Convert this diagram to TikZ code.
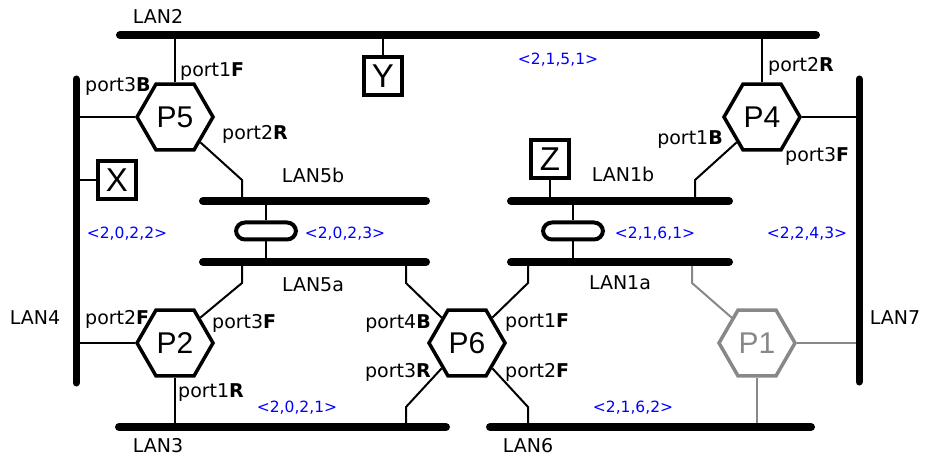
\documentclass[tikz,border=0pt]{standalone}
\usepackage{fontspec}
\setmainfont{DejaVu Sans}
\newfontfamily\hexfont{Liberation Sans}
\usetikzlibrary{shapes.geometric}
\definecolor{pgray}{RGB}{136,136,136}
\begin{document}
\begin{tikzpicture}[x=1pt,y=-1pt,
 lan/.style={line width=8pt, line cap=round},
 vlan/.style={line width=7pt, line cap=round},
 wire/.style={line width=2pt},
 hex/.style={regular polygon, regular polygon sides=6, draw, line width=3.5pt, minimum size=76pt, inner sep=0pt, font=\hexfont\fontsize{30}{30}\selectfont},
 host/.style={draw, line width=4pt, minimum size=38pt, inner sep=0pt, font=\hexfont\fontsize{33}{33}\selectfont},
 lbl/.style={font=\fontsize{19}{19}\selectfont, inner sep=0pt, text height=14pt, text depth=0pt},
 vec/.style={font=\fontsize{15.5}{15.5}\selectfont, text=blue, inner sep=0pt, text height=11.5pt, text depth=0pt},
 coupler/.style={draw, line width=4pt, rounded corners=9pt, minimum width=60pt, minimum height=17pt, inner sep=0pt, fill=white}
]
\useasboundingbox (0,0) rectangle (929,462);

% LAN end coordinates
\coordinate (lan2W) at (120,35);  \coordinate (lan2E) at (816,35);
\coordinate (lan4N) at (76,79);   \coordinate (lan4S) at (76,383);
\coordinate (lan7N) at (859,79);  \coordinate (lan7S) at (859,382);
\coordinate (lan5bW) at (203,201); \coordinate (lan5bE) at (426,201);
\coordinate (lan5aW) at (203,262); \coordinate (lan5aE) at (426,262);
\coordinate (lan1bW) at (511,201); \coordinate (lan1bE) at (729,201);
\coordinate (lan1aW) at (511,262); \coordinate (lan1aE) at (729,262);
\coordinate (lan3W) at (119,427); \coordinate (lan3E) at (446,427);
\coordinate (lan6W) at (490,427); \coordinate (lan6E) at (811,427);

% nodes
\node[hex] (P5) at (175,117) {P5};
\node[hex] (P4) at (762,117) {P4};
\node[hex] (P2) at (175,343) {P2};
\node[hex] (P6) at (467,343) {P6};
\node[hex, draw=pgray, text=pgray] (P1) at (757,343) {P1};
\node[host] (X) at (117,180) {X};
\node[host] (Y) at (383,76) {Y};
\node[host] (Z) at (550,159) {Z};
\node[coupler] (C5) at (266,231) {};
\node[coupler] (C1) at (573,231) {};

% bend points
\coordinate (b5) at (242,180);
\coordinate (b2) at (242,283);
\coordinate (b64) at (406,283);
\coordinate (b63) at (406,407);
\coordinate (b61) at (528,283);
\coordinate (b62) at (528,407);
\coordinate (b4) at (695,180);
\coordinate (b1) at (692,283);

% wires
\draw[wire] (P5.north) -- (P5.north |- lan2W);
\draw[wire] (P4.north) -- (P4.north |- lan2W);
\draw[wire] (Y.north) -- (Y.north |- lan2W);
\draw[wire] (P5.west) -- (P5.west -| lan4N);
\draw[wire] (X.west) -- (X.west -| lan4N);
\draw[wire] (P2.west) -- (P2.west -| lan4N);
\draw[wire] (P4.east) -- (P4.east -| lan7N);
\draw[wire] (P5.-45) -- (b5) -- (b5 |- lan5bW);
\draw[wire] (P2.45) -- (b2) -- (b2 |- lan5aW);
\draw[wire] (P2.south) -- (P2.south |- lan3W);
\draw[wire] (P6.135) -- (b64) -- (b64 |- lan5aW);
\draw[wire] (P6.-135) -- (b63) -- (b63 |- lan3W);
\draw[wire] (P6.45) -- (b61) -- (b61 |- lan1aW);
\draw[wire] (P6.-45) -- (b62) -- (b62 |- lan6W);
\draw[wire] (P4.-135) -- (b4) -- (b4 |- lan1bW);
\draw[wire] (Z.south) -- (Z.south |- lan1bW);
\draw[wire] (C5.north) -- (C5.north |- lan5bW);
\draw[wire] (C5.south) -- (C5.south |- lan5aW);
\draw[wire] (C1.north) -- (C1.north |- lan1bW);
\draw[wire] (C1.south) -- (C1.south |- lan1aW);
\draw[wire, pgray] (P1.135) -- (b1) -- (b1 |- lan1aW);
\draw[wire, pgray] (P1.south) -- (P1.south |- lan6W);
\draw[wire, pgray] (P1.east) -- (P1.east -| lan7N);

% LAN bars
\draw[lan] (lan2W) -- (lan2E);
\draw[vlan] (lan4N) -- (lan4S);
\draw[vlan] (lan7N) -- (lan7S);
\draw[lan] (lan5bW) -- (lan5bE);
\draw[lan] (lan5aW) -- (lan5aE);
\draw[lan] (lan1bW) -- (lan1bE);
\draw[lan] (lan1aW) -- (lan1aE);
\draw[lan] (lan3W) -- (lan3E);
\draw[lan] (lan6W) -- (lan6E);

% LAN labels
\node[lbl] (tLAN2) at (158,17) {LAN2};
\node[lbl] (tLAN4) at (35,317) {LAN4};
\node[lbl] (tLAN7) at (895,317) {LAN7};
\node[lbl] (tLAN5b) at (313,176) {LAN5b};
\node[lbl] (tLAN5a) at (313,285) {LAN5a};
\node[lbl] (tLAN1b) at (623,175) {LAN1b};
\node[lbl] (tLAN1a) at (620,283) {LAN1a};
\node[lbl] (tLAN3) at (158,445) {LAN3};
\node[lbl] (tLAN6) at (528,445) {LAN6};

% port labels
\node[lbl, anchor=west] (p51) at (180,70) {port1\textbf{F}};
\node[lbl, anchor=west] (p53) at (85,85) {port3\textbf{B}};
\node[lbl, anchor=west] (p52) at (222,133) {port2\textbf{R}};
\node[lbl, anchor=west] (p42) at (768,65) {port2\textbf{R}};
\node[lbl, anchor=east] (p41) at (723,138) {port1\textbf{B}};
\node[lbl, anchor=west] (p43) at (785,155) {port3\textbf{F}};
\node[lbl, anchor=west] (p22) at (85,317) {port2\textbf{F}};
\node[lbl, anchor=west] (p23) at (212,322) {port3\textbf{F}};
\node[lbl, anchor=west] (p21) at (178,390) {port1\textbf{R}};
\node[lbl, anchor=east] (p64) at (431,322) {port4\textbf{B}};
\node[lbl, anchor=east] (p63) at (431,370) {port3\textbf{R}};
\node[lbl, anchor=west] (p61) at (505,320) {port1\textbf{F}};
\node[lbl, anchor=west] (p62) at (505,370) {port2\textbf{F}};

% vectors
\node[vec] (v1) at (558,59) {<2,1,5,1>};
\node[vec] (v2) at (127,233) {<2,0,2,2>};
\node[vec] (v3) at (345,233) {<2,0,2,3>};
\node[vec] (v4) at (655,233) {<2,1,6,1>};
\node[vec] (v5) at (807,233) {<2,2,4,3>};
\node[vec] (v6) at (297,407) {<2,0,2,1>};
\node[vec] (v7) at (633,407) {<2,1,6,2>};
\end{tikzpicture}
\end{document}
